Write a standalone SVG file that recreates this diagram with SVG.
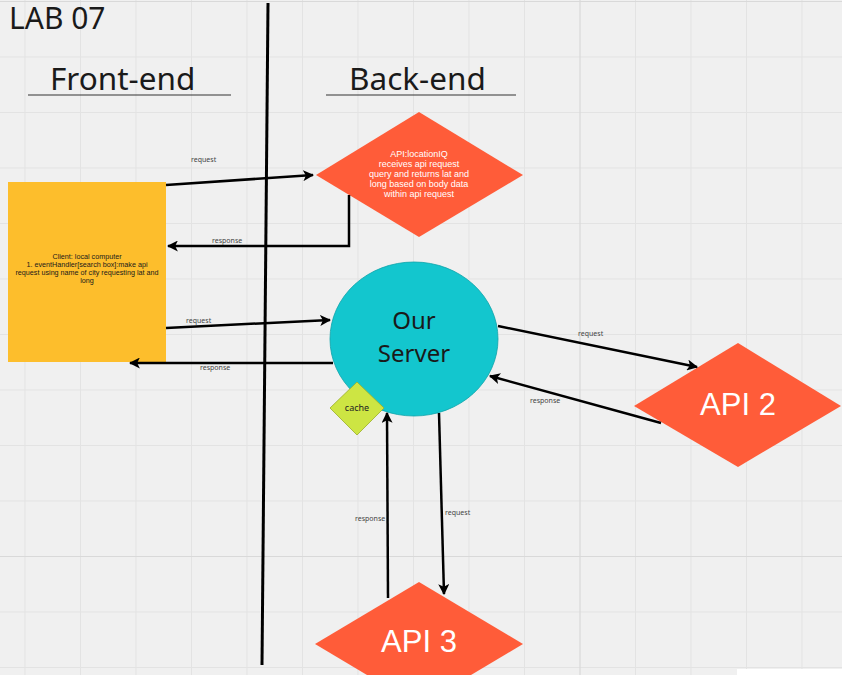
<svg xmlns="http://www.w3.org/2000/svg" width="842" height="675" viewBox="0 0 842 675">
<style>
.grid{stroke:#e3e3e3;stroke-width:1}
.major{stroke:#d9d9d9;stroke-width:1.2}
.title{font-family:"Noto Sans","Open Sans",sans-serif;fill:#1a1a1a}
.conn{stroke:#000;stroke-width:2.5;fill:none}
.lbl{font-family:"Noto Sans","Open Sans",sans-serif;font-size:7px;fill:#444}
.diam{fill:#ff5c39}
.dtext{font-family:"Liberation Sans",Arial,sans-serif;fill:#fff;text-anchor:middle}
.ctext{font-family:"Liberation Sans",Arial,sans-serif;font-size:7.2px;fill:#1a1a1a;text-anchor:middle}
</style>
<defs>
<marker id="ah" viewBox="0 0 10 10" refX="9" refY="5" markerWidth="4.4" markerHeight="4.4" orient="auto" markerUnits="strokeWidth">
<path d="M0,0 L10,5 L0,10 L2.5,5 Z" fill="#000"/>
</marker>
</defs>
<rect x="0" y="0" width="842" height="675" fill="#f0f0f0"/>
<g id="grid">
<path class="grid" d="M25,0V675M80.5,0V675M136,0V675M191.5,0V675M247,0V675M302.5,0V675M358,0V675M413.5,0V675M469,0V675M524.5,0V675M635.5,0V675M691,0V675M746.5,0V675M802,0V675"/>
<path class="grid" d="M0,57H842M0,112.5H842M0,168H842M0,223.5H842M0,279H842M0,334.5H842M0,390H842M0,445.5H842M0,501H842M0,612H842M0,667.5H842"/>
<path class="major" d="M580,0V675M0,1.5H842M0,556.5H842"/>
</g>
<rect x="737" y="669" width="105" height="6" fill="#ffffff"/>
<g id="title">
<text class="title" x="9" y="29" font-size="30">LAB 07</text>
</g>
<g id="frontend-heading">
<text class="title" x="50" y="90" font-size="31.5">Front-end</text>
<line x1="28" y1="95" x2="231" y2="95" stroke="#333" stroke-width="1"/>
</g>
<g id="backend-heading">
<text class="title" x="349" y="90" font-size="31.5">Back-end</text>
<line x1="326" y1="95" x2="516" y2="95" stroke="#333" stroke-width="1"/>
</g>
<g id="divider">
<line x1="268" y1="3" x2="262" y2="665" stroke="#000" stroke-width="3"/>
</g>
<g id="client">
<rect x="8" y="182" width="158" height="180" fill="#fdbe2c"/>
<text class="ctext" x="87" y="259">Client: local computer</text>
<text class="ctext" x="87" y="267">1. eventHandler[search box]:make api</text>
<text class="ctext" x="87" y="275">request using name of city requesting lat and</text>
<text class="ctext" x="87" y="283">long</text>
</g>
<g id="locationiq">
<polygon class="diam" points="419,112 523,175 419,237 316,175"/>
<text class="dtext" font-size="9" x="419" y="157">API:locationIQ</text>
<text class="dtext" font-size="9" x="419" y="167">receives api request</text>
<text class="dtext" font-size="9" x="419" y="177">query and returns lat and</text>
<text class="dtext" font-size="9" x="419" y="187">long based on body data</text>
<text class="dtext" font-size="9" x="419" y="197">within api request</text>
</g>
<g id="server">
<ellipse cx="414" cy="339" rx="84" ry="77" fill="#13c6ce" stroke="#0fa3aa" stroke-width="0.8"/>
<text class="title" x="414" y="329" font-size="24" text-anchor="middle">Our</text>
<text class="title" x="414" y="362" font-size="24" text-anchor="middle">Server</text>
</g>
<g id="cache">
<polygon points="357,382 384,408 357,435 330,408" fill="#cde543" stroke="#9aae2a" stroke-width="0.8"/>
<text x="357" y="411" font-family="'Noto Sans','Open Sans',sans-serif" font-size="9" fill="#222" text-anchor="middle">cache</text>
</g>
<g id="api2">
<polygon class="diam" points="738,343 841,406 738,467 634,406"/>
<text class="dtext" font-size="31" x="738" y="415">API 2</text>
</g>
<g id="api3">
<polygon class="diam" points="419,582 523,644 419,706 315,644"/>
<text class="dtext" font-size="31" x="419" y="652">API 3</text>
</g>
<g id="connectors">
<path class="conn" d="M166,185 L313,175" marker-end="url(#ah)"/>
<path class="conn" d="M349,195 V246 H168" marker-end="url(#ah)"/>
<path class="conn" d="M166,328 L330,320" marker-end="url(#ah)"/>
<path class="conn" d="M333,363 L130,363" marker-end="url(#ah)"/>
<path class="conn" d="M498,326 L697,367" marker-end="url(#ah)"/>
<path class="conn" d="M661,423 L490,376" marker-end="url(#ah)"/>
<path class="conn" d="M388,598 L387,413" marker-end="url(#ah)"/>
<path class="conn" d="M439,413 L444,594" marker-end="url(#ah)"/>
<text class="lbl" x="191" y="162">request</text>
<text class="lbl" x="212" y="243">response</text>
<text class="lbl" x="186" y="323">request</text>
<text class="lbl" x="200" y="370">response</text>
<text class="lbl" x="578" y="336">request</text>
<text class="lbl" x="530" y="403">response</text>
<text class="lbl" x="355" y="521">response</text>
<text class="lbl" x="445" y="515">request</text>
</g>
</svg>
